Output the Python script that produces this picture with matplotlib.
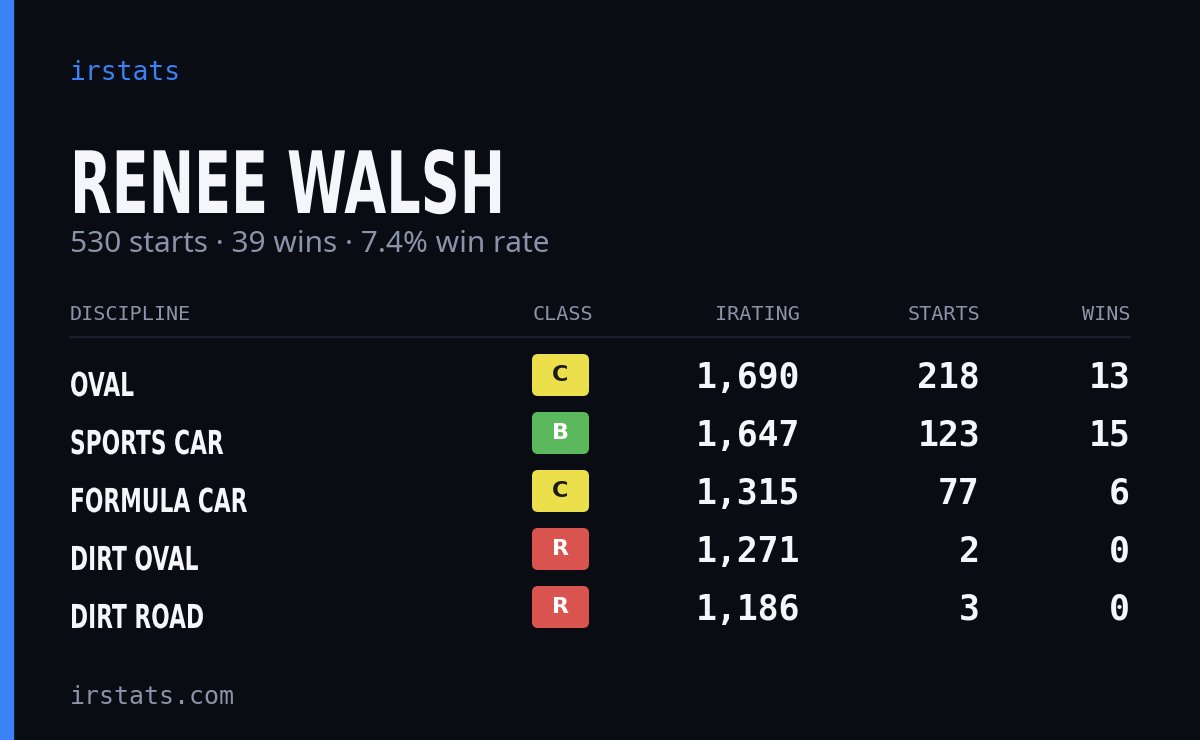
import matplotlib
matplotlib.use("Agg")
import matplotlib.pyplot as plt
from matplotlib.patches import FancyBboxPatch, Rectangle, PathPatch
from matplotlib.textpath import TextPath
from matplotlib.font_manager import FontProperties
from matplotlib.transforms import Affine2D

name = "RENEE WALSH"
subtitle = "530 starts · 39 wins · 7.4% win rate"
headers = ["DISCIPLINE", "CLASS", "IRATING", "STARTS", "WINS"]
disciplines = ["OVAL", "SPORTS CAR", "FORMULA CAR", "DIRT OVAL", "DIRT ROAD"]
classes = ["C", "B", "C", "R", "R"]
iratings = [1690, 1647, 1315, 1271, 1186]
starts = [218, 123, 77, 2, 3]
wins = [13, 15, 6, 0, 0]
class_colors = {"C": ("#ecdf4c", "#1a1a1a"), "B": ("#5cb85c", "#ffffff"), "R": ("#d9534f", "#ffffff")}

bg = "#0a0c13"
fig = plt.figure(figsize=(12, 7.4), dpi=100, facecolor=bg)
ax = fig.add_axes([0, 0, 1, 1])
ax.set_xlim(0, 1200); ax.set_ylim(740, 0); ax.axis("off")
ax.set_facecolor(bg)
ax.add_patch(Rectangle((0, 0), 13, 740, color="#3b82f6"))

boldprop = FontProperties(family="DejaVu Sans", weight="bold")

def cond_text(x, baseline, s, size, sx, color):
    p = TextPath((0, 0), s, size=size, prop=boldprop)
    tr = Affine2D().scale(sx, -1).translate(x, baseline)
    ax.add_patch(PathPatch(tr.transform_path(p), fc=color, ec="none"))

mono = ["DejaVu Sans Mono"]
ax.text(70, 73, "irstats", color="#3b82f6", fontsize=19, family=mono, va="center")
cond_text(70, 213, name, 86, 0.63, "#f5f6fa")
ax.text(70, 245, subtitle, color="#8b93a8", fontsize=21.5, family=["Noto Sans", "DejaVu Sans"], va="center")

hx = [70, 593, 800, 980, 1130]
ha = ["left", "right", "right", "right", "right"]
for h, x, a in zip(headers, hx, ha):
    ax.text(x, 314, h, color="#8b93a8", fontsize=14.5, family=mono, ha=a, va="center")
ax.plot([70, 1130], [337, 337], color="#1e2230", lw=1.2)

for i, d in enumerate(disciplines):
    y = 378 + 58 * i
    cond_text(70, y + 18, d, 33, 0.66, "#f5f6fa")
    fc, tc = class_colors[classes[i]]
    ax.add_patch(FancyBboxPatch((532, y - 24), 57, 42, boxstyle="round,pad=0,rounding_size=6", fc=fc, ec="none"))
    ax.text(560, y - 3, classes[i], color=tc, fontsize=16, weight="bold", ha="center", va="center", family=["DejaVu Sans"])
    for val, x in zip([f"{iratings[i]:,}", str(starts[i]), str(wins[i])], hx[2:]):
        ax.text(x, y, val, color="#f5f6fa", fontsize=25, family=mono, weight="bold", ha="right", va="center")

ax.text(70, 697, "irstats.com", color="#8b93a8", fontsize=18, family=mono, va="center")
fig.savefig("out.png", dpi=100, facecolor=bg)
